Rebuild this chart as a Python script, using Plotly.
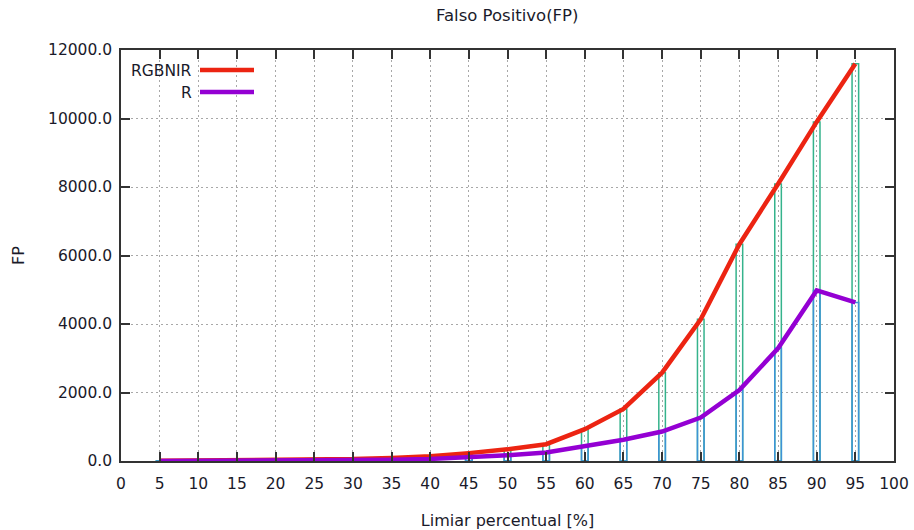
import plotly.graph_objects as go

# Threshold percentages (x axis)
limiar = [5, 10, 15, 20, 25, 30, 35, 40, 45, 50, 55, 60, 65, 70, 75, 80, 85, 90, 95]

# False positives per band combination
fp_rgbnir = [5, 10, 15, 25, 35, 55, 90, 140, 230, 340, 490, 930, 1520, 2580, 4140, 6330, 8090, 9900, 11600]
fp_r = [2, 3, 5, 8, 12, 20, 35, 60, 100, 170, 250, 420, 620, 860, 1270, 2070, 3290, 4980, 4630]

x_ticks = list(range(0, 101, 5))
y_ticks = list(range(0, 12001, 2000))

FONT = "DejaVu Sans"
TXT = "#1a1a2a"
RED = "#ec2412"
PURPLE = "#9400d3"
GREEN = "#35b38c"
BLUE = "#3d93d6"

fig = go.Figure()

# Outlined impulse boxes for each series
fig.add_trace(go.Bar(
    x=limiar, y=fp_rgbnir, width=0.85,
    marker=dict(color="rgba(0,0,0,0)", line=dict(color=GREEN, width=1.5)),
    showlegend=False, hoverinfo="skip",
))
fig.add_trace(go.Bar(
    x=limiar, y=fp_r, width=0.85,
    marker=dict(color="rgba(0,0,0,0)", line=dict(color=BLUE, width=1.5)),
    showlegend=False, hoverinfo="skip",
))

# Curves
fig.add_trace(go.Scatter(
    x=limiar, y=fp_rgbnir, mode="lines", name="RGBNIR",
    line=dict(color=RED, width=4.5), showlegend=False,
))
fig.add_trace(go.Scatter(
    x=limiar, y=fp_r, mode="lines", name="R",
    line=dict(color=PURPLE, width=4.5), showlegend=False,
))

axis_common = dict(
    showline=True, linecolor="#333333", linewidth=1.5, mirror="ticks",
    ticks="inside", ticklen=9, tickwidth=1.5, tickcolor="#333333",
    showgrid=True, gridcolor="#a8a8a8", griddash="1.5px,3.5px", gridwidth=1.2,
    zeroline=False, automargin=False,
    tickfont=dict(family=FONT, size=15.5, color=TXT),
)

fig.update_xaxes(
    range=[0, 100], tickvals=x_ticks, ticktext=[str(v) for v in x_ticks],
    ticklabelstandoff=8,
    title=dict(text="Limiar percentual [%]", font=dict(family=FONT, size=16, color=TXT), standoff=22),
    **axis_common,
)
fig.update_yaxes(
    range=[0, 12000], tickvals=y_ticks, ticktext=[f"{v:.1f}" for v in y_ticks],
    ticklabelstandoff=4,
    title=dict(text="FP", font=dict(family=FONT, size=16, color=TXT), standoff=19),
    **axis_common,
)

# Legend drawn gnuplot-style: label on the left, line sample on the right
W = 914 - 121 - 20
H = 461 - 50


def px_x(px):
    return (px - 121) / W


def px_y(py):
    return 1 - (py - 50) / H


legend_items = [("RGBNIR", RED, 71), ("R", PURPLE, 93)]
annotations = []
shapes = []
for label, color, py in legend_items:
    annotations.append(dict(
        x=px_x(194), y=px_y(py), xref="paper", yref="paper",
        text=label, showarrow=False, xanchor="right", yanchor="middle",
        font=dict(family=FONT, size=15.5, color=TXT),
    ))
    shapes.append(dict(
        type="line", xref="paper", yref="paper",
        x0=px_x(200), x1=px_x(254), y0=px_y(py - 1), y1=px_y(py - 1),
        line=dict(color=color, width=4.5),
    ))

fig.update_layout(
    width=914, height=530,
    margin=dict(l=121, r=20, t=50, b=69),
    paper_bgcolor="white", plot_bgcolor="white",
    barmode="overlay",
    title=dict(text="Falso Positivo(FP)", x=0.555, xanchor="center", y=0.972, yanchor="middle",
               font=dict(family=FONT, size=16.5, color=TXT)),
    annotations=annotations, shapes=shapes,
    showlegend=False,
)

fig.write_html("out.html")
